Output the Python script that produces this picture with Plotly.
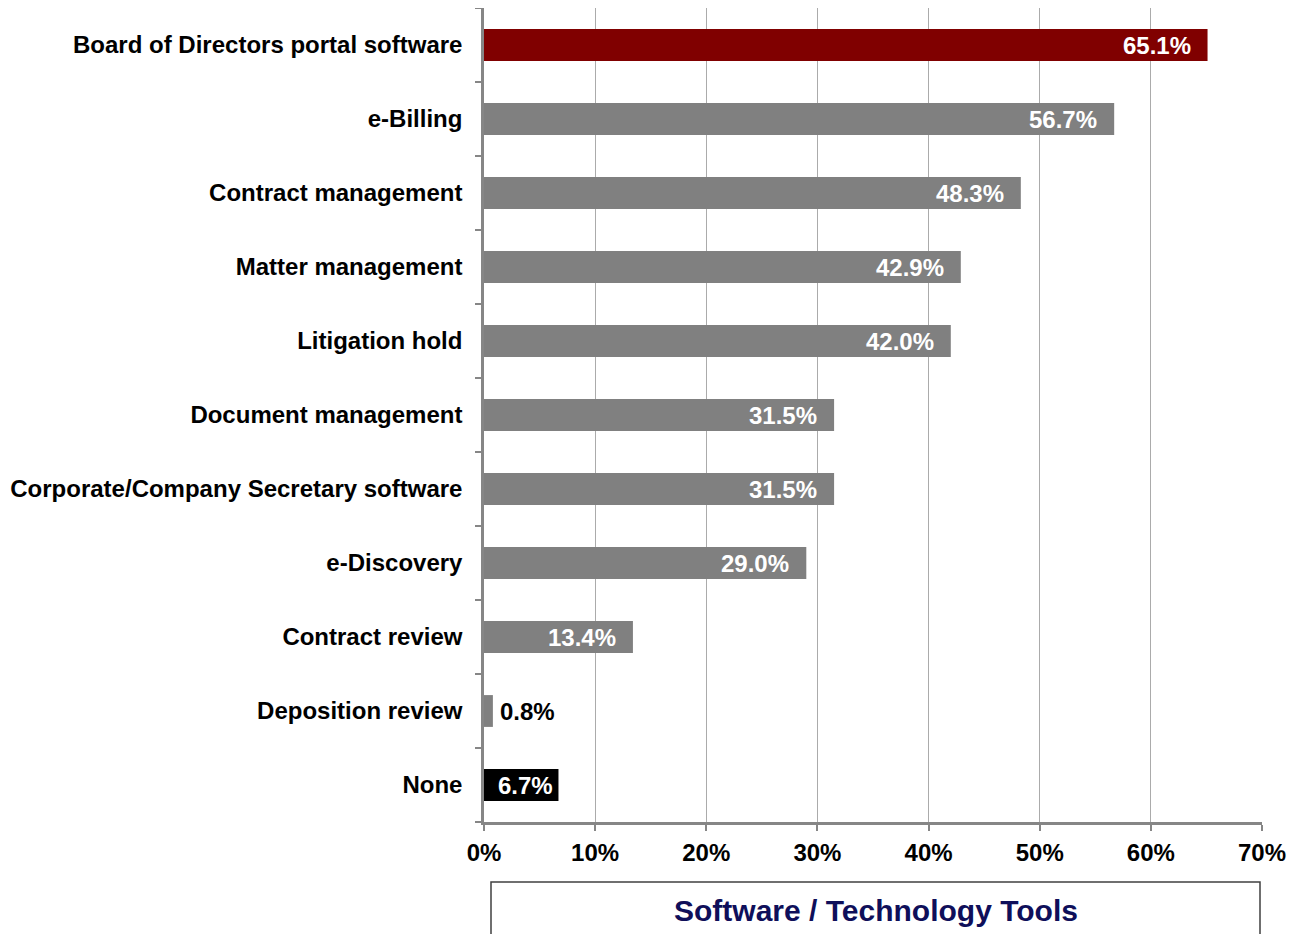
import plotly.graph_objects as go

categories = [
    "Board of Directors portal software",
    "e-Billing",
    "Contract management",
    "Matter management",
    "Litigation hold",
    "Document management",
    "Corporate/Company Secretary software",
    "e-Discovery",
    "Contract review",
    "Deposition review",
    "None",
]
values = [65.1, 56.7, 48.3, 42.9, 42.0, 31.5, 31.5, 29.0, 13.4, 0.8, 6.7]
bar_colors = ["#800000"] + ["#808080"] * 9 + ["#000000"]
x_ticks = [0, 10, 20, 30, 40, 50, 60, 70]
x_tick_labels = [f"{t}%" for t in x_ticks]
axis_title = "Software / Technology Tools"

FONT = "Liberation Sans, Arial, sans-serif"

fig = go.Figure()
fig.add_trace(go.Bar(
    y=categories,
    x=values,
    orientation="h",
    marker=dict(color=bar_colors, line=dict(width=0)),
    hoverinfo="skip",
))

# value labels
for cat, v in zip(categories, values):
    if v < 3:
        fig.add_annotation(x=v, y=cat, xref="x", yref="y", text=f"<b>{v:.1f}%</b>",
                           showarrow=False, xanchor="left", xshift=5,
                           font=dict(family=FONT, size=24, color="#000000"))
    elif v < 10:
        fig.add_annotation(x=v, y=cat, xref="x", yref="y", text=f"<b>{v:.1f}%</b>",
                           showarrow=False, xanchor="right", xshift=-3,
                           font=dict(family=FONT, size=24, color="#FFFFFF"))
    else:
        fig.add_annotation(x=v, y=cat, xref="x", yref="y", text=f"<b>{v:.1f}%</b>",
                           showarrow=False, xanchor="right", xshift=-15,
                           font=dict(family=FONT, size=24, color="#FFFFFF"))

# bottom box with title
fig.add_shape(type="rect", xref="paper", yref="paper",
              x0=7 / 778, x1=776 / 778, y0=-0.0737, y1=-0.17,
              line=dict(color="#404040", width=1.5), fillcolor="rgba(0,0,0,0)")
fig.add_annotation(xref="paper", yref="paper", x=(876 - 484) / 778, y=-0.1093,
                   text=f"<b>{axis_title}</b>", showarrow=False,
                   xanchor="center", yanchor="middle",
                   font=dict(family=FONT, size=30, color="#0F0F5A"))

fig.update_layout(
    width=1300, height=934,
    margin=dict(l=476, r=46, t=0, b=120),
    paper_bgcolor="white", plot_bgcolor="white",
    showlegend=False,
    bargap=0.57,
    font=dict(family=FONT, size=24, color="#000000"),
)
fig.update_xaxes(
    range=[0, 70], tickvals=x_ticks, ticktext=[f"<b>{t}</b>" for t in x_tick_labels],
    showgrid=True, gridcolor="#ABABAB", gridwidth=1,
    showline=True, linecolor="#868686", linewidth=2.5,
    ticks="outside", ticklen=6, tickcolor="#868686", tickwidth=2,
    ticklabelstandoff=1, zeroline=False, fixedrange=True,
    tickfont=dict(family=FONT, size=24, color="#000000"),
)
fig.update_yaxes(
    autorange="reversed", categoryorder="array", categoryarray=categories,
    ticktext=[f"<b>{c}</b>" for c in categories], tickvals=categories,
    showline=True, linecolor="#868686", linewidth=2.5,
    ticks="outside", ticklen=6, tickcolor="#868686", tickwidth=2,
    tickson="boundaries", ticklabelstandoff=14, showgrid=False,
    tickfont=dict(family=FONT, size=24, color="#000000"),
)

fig.write_html("out.html")
